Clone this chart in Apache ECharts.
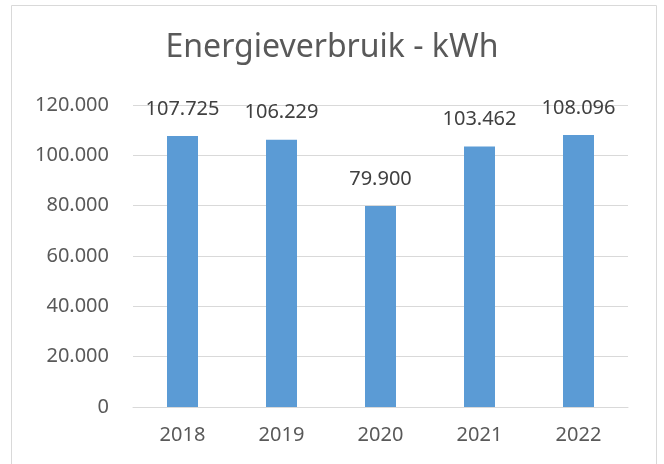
<!DOCTYPE html>
<html>
<head>
<meta charset="utf-8">
<script src="https://cdn.jsdelivr.net/npm/echarts@6/dist/echarts.min.js"></script>
<style>
  html, body { margin: 0; padding: 0; background: #fff; }
  #chart { width: 664px; height: 464px; }
</style>
</head>
<body>
<div id="chart"></div>
<script>
var years = ['2018', '2019', '2020', '2021', '2022']
var verbruik = [107725, 106229, 79900, 103462, 108096]
var yMax = 120000
var yStep = 20000

// punt als duizendtalscheiding, zoals in het origineel
function nl(v) {
    return String(v).replace(/\B(?=(\d{3})+(?!\d))/g, '.')
}

var chart = echarts.init(document.getElementById('chart'))
var fontFam = '"Noto Sans", "Open Sans", sans-serif'

chart.setOption({
    animation: false,
    title: {
        text: 'Energieverbruik - kWh',
        left: 'center',
        top: 27,
        textStyle: {
            fontFamily: fontFam,
            fontSize: 32,
            fontWeight: 'normal',
            color: '#595959'
        }
    },
    graphic: [{
        type: 'rect',
        silent: true,
        shape: { x: 11.5, y: 5.5, width: 645, height: 480 },
        style: { fill: 'none', stroke: '#D9D9D9', lineWidth: 1 }
    }],
    grid: {
        left: 133,
        right: 36,
        top: 105,
        bottom: 57
    },
    xAxis: {
        type: 'category',
        data: years,
        axisLine: { lineStyle: { color: '#D9D9D9', width: 1 } },
        axisTick: { show: false },
        axisLabel: {
            margin: 18,
            fontFamily: fontFam,
            fontSize: 20,
            color: '#595959'
        }
    },
    yAxis: {
        type: 'value',
        min: 0,
        max: yMax,
        interval: yStep,
        axisLine: { show: false },
        axisTick: { show: false },
        splitLine: { lineStyle: { color: '#D9D9D9', width: 1 } },
        axisLabel: {
            margin: 24,
            fontFamily: fontFam,
            fontSize: 20,
            color: '#595959',
            formatter: function(v) { return nl(v) }
        }
    },
    series: [{
        type: 'bar',
        data: verbruik,
        barWidth: 31,
        itemStyle: { color: '#5B9BD5' },
        label: {
            show: true,
            position: 'top',
            distance: 17,
            fontFamily: fontFam,
            fontSize: 20,
            color: '#404040',
            formatter: function(p) { return nl(p.value) }
        }
    }]
})
</script>
</body>
</html>
